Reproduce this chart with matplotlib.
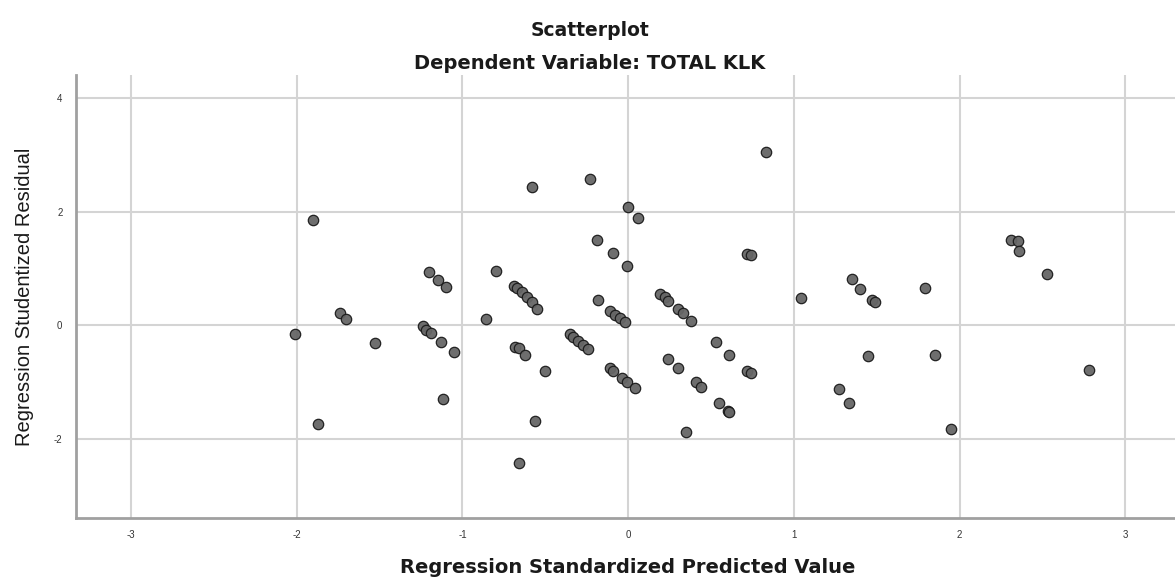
import matplotlib.pyplot as plt

# regression standardized predicted value (x) and studentized residual (y)
pred = [
    -0.58, -0.23, 0.00, 0.06, -1.90, -0.19, -0.09, -0.01,
    -1.20, -1.15, -1.10, -0.80,
    -0.69, -0.67, -0.64, -0.61, -0.58, -0.55,
    -0.18, -0.11, -0.08, -0.05, -0.02,
    -1.74, -1.70, -2.01, -1.53,
    -1.24, -1.22, -1.19, -1.13, -1.05, -0.86,
    -0.35, -0.33, -0.30, -0.27, -0.24,
    -0.68, -0.66, -0.62, -0.50,
    -0.11, -0.09, -0.04, -0.01, 0.04,
    -1.12, -1.87, -0.56, -0.66,
    0.83, 0.72, 0.74, 2.31, 2.35, 2.36, 2.53,
    1.35, 1.40, 1.47, 1.49, 1.79, 1.04,
    0.19, 0.22, 0.24, 0.30, 0.33, 0.38,
    0.53, 0.61, 0.24, 0.30, 0.72, 0.74,
    0.41, 0.44, 0.55, 0.60, 0.61, 0.35,
    1.45, 1.85, 1.27, 1.33, 1.95, 2.78,
]
resid = [
    2.43, 2.58, 2.08, 1.89, 1.86, 1.50, 1.27, 1.04,
    0.94, 0.79, 0.68, 0.96,
    0.69, 0.65, 0.59, 0.50, 0.41, 0.28,
    0.44, 0.25, 0.18, 0.12, 0.05,
    0.22, 0.11, -0.15, -0.31,
    -0.02, -0.09, -0.13, -0.29, -0.48, 0.11,
    -0.15, -0.21, -0.28, -0.35, -0.42,
    -0.38, -0.40, -0.52, -0.81,
    -0.76, -0.81, -0.93, -1.01, -1.11,
    -1.31, -1.74, -1.69, -2.44,
    3.05, 1.26, 1.23, 1.51, 1.49, 1.31, 0.90,
    0.81, 0.63, 0.44, 0.41, 0.66, 0.48,
    0.55, 0.49, 0.43, 0.28, 0.21, 0.08,
    -0.29, -0.52, -0.60, -0.75, -0.81, -0.84,
    -1.01, -1.09, -1.38, -1.51, -1.54, -1.89,
    -0.55, -0.53, -1.12, -1.37, -1.84, -0.79,
]

xticks = [-3, -2, -1, 0, 1, 2, 3]
yticks = [-2, 0, 2, 4]

plt.rcParams['font.family'] = ['Liberation Sans', 'DejaVu Sans']

fig = plt.figure(figsize=(11.75, 5.78), dpi=100)
ax = fig.add_axes([0.065, 0.104, 0.935, 0.766])

ax.scatter(pred, resid, s=56, facecolor='#666666', edgecolor='#1a1a1a',
           linewidth=0.9, alpha=0.95, zorder=3)

ax.set_xlim(-3.33, 3.30)
ax.set_ylim(-3.40, 4.41)
ax.set_xticks(xticks)
ax.set_yticks(yticks)
ax.set_xticklabels([str(v) for v in xticks])
ax.set_yticklabels([str(v) for v in yticks])
ax.grid(True, color='#d4d4d4', linewidth=1.5, zorder=0)
ax.set_axisbelow(True)

for side in ['top', 'right']:
    ax.spines[side].set_visible(False)
for side in ['left', 'bottom']:
    ax.spines[side].set_color('#a0a0a0')
    ax.spines[side].set_linewidth(2)

ax.tick_params(length=0, labelsize=7, colors='#333333')
ax.tick_params(axis='x', pad=9)
ax.tick_params(axis='y', pad=10)

fig.text(0.5345, 0.019, 'Regression Standardized Predicted Value', ha='center',
         va='center', fontsize=14, fontweight='bold', color='#1a1a1a',
         family='DejaVu Sans')
ax.set_ylabel('Regression Studentized Residual', fontsize=14.5,
              color='#1a1a1a', labelpad=14)

fig.text(0.502, 0.948, 'Scatterplot', ha='center', va='center',
         fontsize=13.5, fontweight='bold', color='#1a1a1a',
         family='DejaVu Sans')
fig.text(0.502, 0.891, 'Dependent Variable: TOTAL KLK', ha='center',
         va='center', fontsize=14, fontweight='bold', color='#1a1a1a',
         family='DejaVu Sans')

fig.savefig('out.png', dpi=100)
